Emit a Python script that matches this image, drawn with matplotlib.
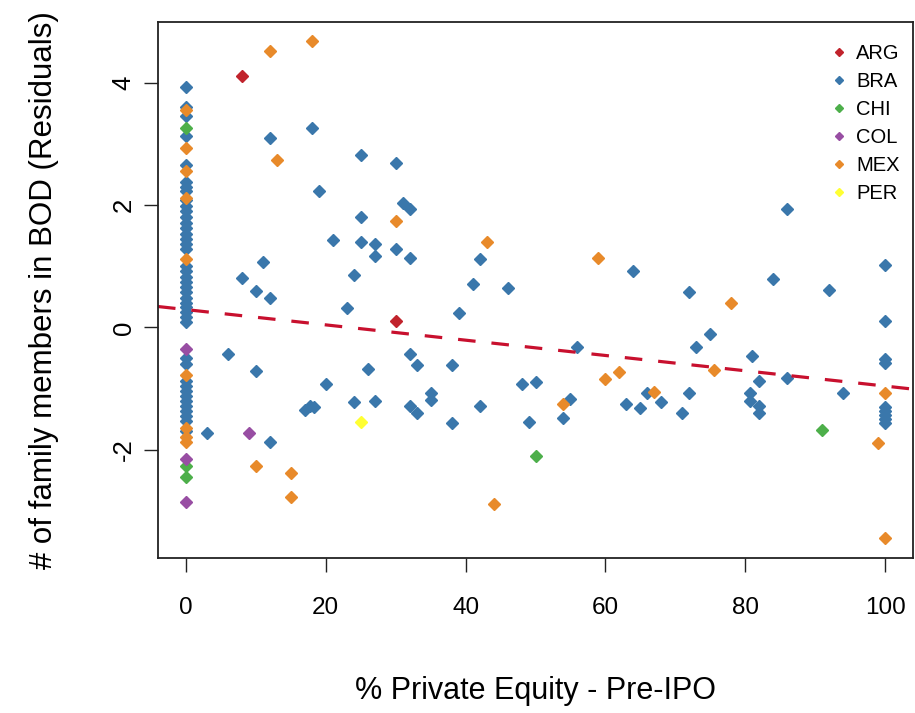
import matplotlib
matplotlib.use("Agg")
import numpy as np
from matplotlib import pyplot as plt

plt.rcParams['font.family'] = ['Liberation Sans', 'DejaVu Sans']
plt.rcParams['axes.unicode_minus'] = False

# residuals by country: x = % private equity pre-IPO, y = residual
arg_x = [8, 30]
arg_y = [4.10, 0.10]

bra_x = [0, 0, 0, 0, 0,
         0, 0, 0, 0, 0, 0, 0, 0, 0, 0, 0, 0, 0, 0, 0, 0, 0, 0, 0, 0, 0, 0, 0, 0, 0,
         0, 0, 0, 0, 0, 0, 0, 0, 0, 0, 0, 0,
         3, 6, 8, 10, 10, 11, 12, 12, 12,
         17, 17.7, 18.3, 18, 19, 20, 21, 23, 24, 24, 25, 25, 25, 26, 27, 27, 27,
         30, 30, 31, 32, 32, 32, 33, 32, 33, 35, 35, 38, 38, 39, 41, 42, 42, 46,
         48, 49, 50, 54, 55, 56, 63, 64, 65, 66, 68, 71, 72, 72, 73, 75, 81,
         80.7, 80.7, 82, 82, 82, 84, 86, 86, 92, 94,
         100, 100, 100, 100, 100, 100, 100, 100, 100]
bra_y = [3.93, 3.60, 3.45, 3.12, 2.65,
         2.38, 2.30, 2.22, 2.08, 1.98, 1.90, 1.80, 1.70, 1.62, 1.52, 1.45, 1.36, 1.28,
         1.00, 0.92, 0.83, 0.74, 0.66, 0.57, 0.48, 0.40, 0.33, 0.25, 0.17, 0.09,
         -0.50, -0.60, -0.88, -0.96, -1.04, -1.12, -1.20, -1.28, -1.36, -1.45, -1.53, -1.70,
         -1.73, -0.43, 0.81, 0.60, -0.72, 1.07, 3.09, 0.48, -1.88,
         -1.35, -1.28, -1.31, 3.26, 2.22, -0.92, 1.43, 0.31, 0.85, -1.22, 2.81, 1.81, 1.40,
         -0.68, 1.36, 1.16, -1.21,
         2.69, 1.28, 2.04, 1.93, 1.13, -0.44, -0.62, -1.29, -1.40, -1.07, -1.18, -0.62,
         -1.57, 0.24, 0.70, 1.11, -1.28, 0.65,
         -0.92, -1.54, -0.90, -1.48, -1.17, -0.32, -1.26, 0.92, -1.32, -1.08, -1.22, -1.40,
         0.58, -1.08, -0.32, -0.11, -0.47,
         -1.07, -1.21, -0.88, -1.29, -1.40, 0.79, -0.83, 1.93, 0.61, -1.08,
         1.02, 0.10, -0.52, -0.58, -1.30, -1.37, -1.44, -1.50, -1.56]

chi_x = [0, 0, 0, 50, 91]
chi_y = [3.25, -2.27, -2.45, -2.11, -1.67]

col_x = [0, 0, 0, 9]
col_y = [-0.36, -2.15, -2.86, -1.72]

mex_x = [0, 0, 0, 0, 0, 0, 0, 0, 0, 10, 12, 13, 15, 15, 18, 30, 43, 44, 54,
         59, 60, 62, 67, 75.6, 78, 99, 100, 100]
mex_y = [3.55, 2.93, 2.55, 2.12, 1.12, -0.78, -1.65, -1.80, -1.88, -2.27, 4.52,
         2.73, -2.38, -2.77, 4.68, 1.73, 1.39, -2.89, -1.25, 1.13, -0.85, -0.73,
         -1.06, -0.70, 0.39, -1.89, -1.08, -3.44]

per_x = [25]
per_y = [-1.54]

countries = ["ARG", "BRA", "CHI", "COL", "MEX", "PER"]
colors = ["#C1232C", "#3A77AB", "#4DAF4A", "#984EA3", "#E88A2A", "#FFFF33"]

# fitted line
fit_intercept = 0.29
fit_slope = -0.0125

xs = [arg_x, bra_x, chi_x, col_x, mex_x, per_x]
ys = [arg_y, bra_y, chi_y, col_y, mex_y, per_y]

fig = plt.figure(figsize=(9.15, 7.13), dpi=100)
ax = fig.add_axes([158 / 915, 1 - 558 / 713, 755 / 915, 536 / 713])

for name, c, x, y in zip(countries, colors, xs, ys):
    ax.plot(x, y, linestyle="none", marker="D", ms=6.3, color=c, mec=c, label=name)

ax.set_xlim(-4, 104)
ax.set_ylim(-3.77, 4.99)
ax.axline((0, fit_intercept), slope=fit_slope, color="#C8102E", lw=2.3,
          dashes=(5.5, 5))

ax.set_xticks([0, 20, 40, 60, 80, 100])
ax.set_yticks([-2, 0, 2, 4])
ax.tick_params(length=10, width=1, color="#222222")
ax.tick_params(axis="x", pad=18, labelsize=17.5)
ax.tick_params(axis="y", pad=6, labelsize=18.5)
for lab in ax.get_yticklabels():
    lab.set_rotation(90)
    lab.set_va("center")
for s in ax.spines.values():
    s.set_linewidth(1.3)
    s.set_color("#222222")

ax.set_xlabel("% Private Equity - Pre-IPO", fontsize=22, labelpad=41)
ax.set_ylabel("# of family members in BOD (Residuals)", fontsize=22.5, labelpad=38)

leg = ax.legend(loc="upper right", bbox_to_anchor=(1.0066, 0.9925), frameon=False,
                fontsize=14.5, markerscale=0.7, handlelength=0.7, handletextpad=0.5,
                labelspacing=0.45, borderaxespad=0.5)

fig.savefig("out.png", dpi=100)
